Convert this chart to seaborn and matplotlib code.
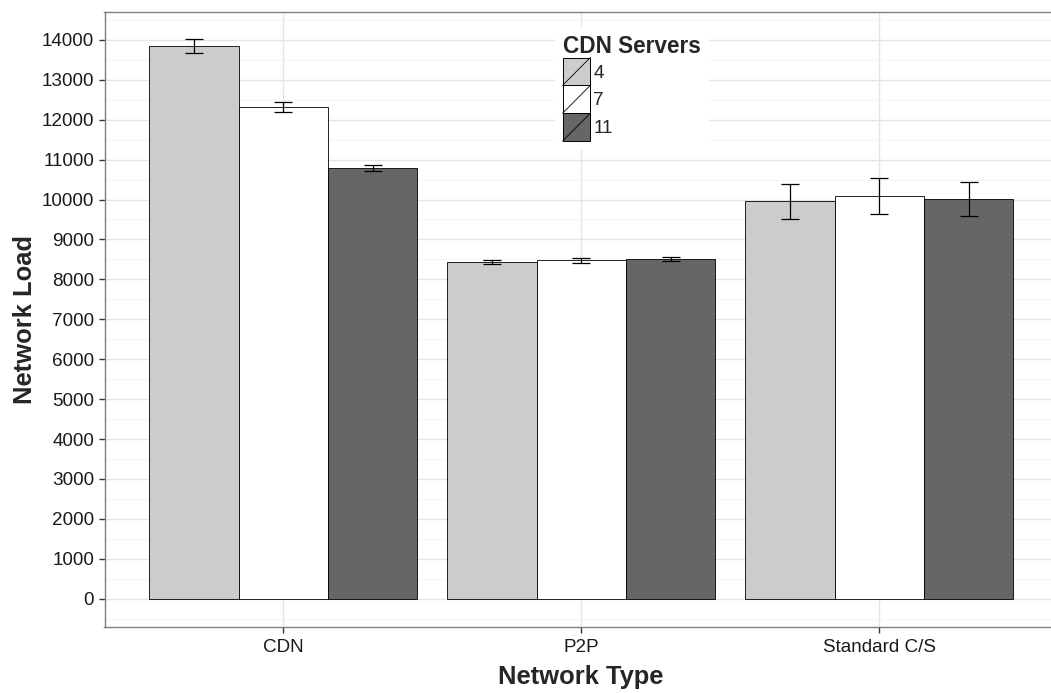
import pandas as pd
import matplotlib.pyplot as plt
import seaborn as sns
from matplotlib.patches import Patch, Rectangle
from matplotlib.lines import Line2D
from matplotlib.legend_handler import HandlerBase
from matplotlib.ticker import MultipleLocator

network_types = ["CDN", "P2P", "Standard C/S"]
server_counts = ["4", "7", "11"]
load_cdn = [13847, 12320, 10792]
load_p2p = [8435, 8476, 8510]
load_scs = [9955, 10095, 10015]
err_cdn = [166, 116, 79]
err_p2p = [47, 55, 57]
err_scs = [440, 450, 420]
fill_colors = ["#CCCCCC", "#FFFFFF", "#666666"]


class SlashKey(HandlerBase):
    # ggplot-style bar key: filled square with a diagonal stroke
    def create_artists(self, legend, orig_handle, xdescent, ydescent, width, height, fontsize, trans):
        x0, y0 = -xdescent, -ydescent
        box = Rectangle((x0, y0), width, height, facecolor=orig_handle.get_facecolor(),
                        edgecolor="black", lw=0.7, transform=trans)
        slash = Line2D([x0, x0 + width], [y0, y0 + height], color="black", lw=0.6, transform=trans)
        return [box, slash]


def build_frame():
    rows = []
    for net, loads, errs in zip(network_types, [load_cdn, load_p2p, load_scs], [err_cdn, err_p2p, err_scs]):
        for srv, v, e in zip(server_counts, loads, errs):
            rows.append({"network": net, "servers": srv, "load": v, "err": e})
    return pd.DataFrame(rows)


def plot_network_load(df):
    sns.set_style("white")
    plt.rcParams["font.family"] = ["Liberation Sans", "DejaVu Sans"]

    fig = plt.figure(figsize=(10.51, 6.93), dpi=100)
    ax = fig.add_axes([104.5 / 1051, 1 - 626.7 / 693, 953.5 / 1051, 615.2 / 693])

    sns.barplot(data=df, x="network", y="load", hue="servers", order=network_types,
                hue_order=server_counts, palette=fill_colors, width=0.9, gap=0,
                errorbar=None, edgecolor="black", linewidth=0.6, legend=False, ax=ax, zorder=2)

    # error bars at the centre of each bar that seaborn drew
    for bars, srv in zip(ax.containers, server_counts):
        sub = df[df["servers"] == srv].set_index("network").loc[network_types]
        xs = [b.get_x() + b.get_width() / 2 for b in bars]
        ax.errorbar(xs, sub["load"], yerr=sub["err"], fmt="none", ecolor="black",
                    elinewidth=0.9, capsize=6.8, capthick=0.9, zorder=3)

    ax.set_xlim(-0.6, 2.6)
    ax.set_ylim(-700, 14710)
    ax.yaxis.set_major_locator(MultipleLocator(1000))
    ax.yaxis.set_minor_locator(MultipleLocator(500))
    ax.grid(True, which="major", color="#E5E5E5", lw=1.0, zorder=0)
    ax.grid(True, which="minor", axis="y", color="#F5F5F5", lw=0.8, zorder=0)
    ax.set_axisbelow(True)

    for s in ax.spines.values():
        s.set_color("#7F7F7F")
        s.set_linewidth(1.0)

    ax.tick_params(axis="both", which="major", length=4, width=1, color="#333333",
                   labelsize=13.6, labelcolor="#1A1A1A", left=True, bottom=True)
    ax.tick_params(axis="x", which="major", pad=5)
    ax.tick_params(axis="both", which="minor", length=0)

    ax.set_xlabel("Network Type", fontsize=18.4, fontweight="bold", labelpad=6)
    ax.set_ylabel("Network Load", fontsize=18.4, fontweight="bold", labelpad=3)

    handles = [Patch(facecolor=c) for c in fill_colors]
    leg = fig.legend(handles, server_counts, title="CDN Servers", loc="upper left",
                     bbox_to_anchor=(555 / 1051, 1 - 27 / 693), handler_map={Patch: SlashKey()},
                     fontsize=13.6, title_fontproperties={"weight": "bold", "size": 16.3},
                     handlelength=1.47, handleheight=1.89, labelspacing=0, handletextpad=0.15,
                     borderpad=0.4, borderaxespad=0, alignment="left", frameon=True,
                     fancybox=False, framealpha=1)
    leg.get_frame().set_edgecolor("white")
    leg.get_frame().set_facecolor("white")

    fig.savefig("out.png", dpi=100)


if __name__ == "__main__":
    df = build_frame()
    plot_network_load(df)
